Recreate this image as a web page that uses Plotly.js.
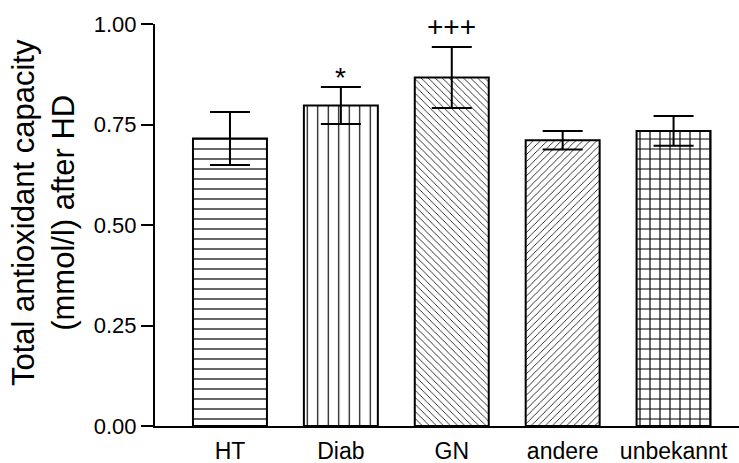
<!DOCTYPE html>
<html>
<head>
<meta charset="utf-8">
<script src="https://cdn.plot.ly/plotly-3.0.1.min.js"></script>
<style>
  html, body { margin: 0; padding: 0; background: #fff; }
  #chart { width: 739px; height: 463px; }
</style>
</head>
<body>
<div id="chart"></div>
<script>
// Total antioxidant capacity after HD, by underlying kidney disease
const categories = ['HT', 'Diab', 'GN', 'andere', 'unbekannt'];
const means = [0.715, 0.797, 0.867, 0.711, 0.734];
const sem = [0.066, 0.046, 0.076, 0.023, 0.037];
const hatches = ['-', '|', '\\', '/', '+'];
const marks = ['', '*', '+++', '', ''];
const yTitle = 'Total antioxidant capacity<br>(mmol/l) after HD';

// hatch density and line weight per fill shape
const patternSize = { '-': 10, '|': 10.5, '\\': 5, '/': 5, '+': 10 };
const patternSolidity = { '-': 0.12, '|': 0.11, '\\': 0.16, '/': 0.16, '+': 0.22 };
// the asterisk glyph sits higher in its line than the plus signs
const markLift = { '*': 10, '+++': 20 };

const FONT = 'Liberation Sans, Arial, Helvetica, sans-serif';

const bars = {
  type: 'bar',
  x: categories,
  y: means,
  width: 0.667,
  marker: {
    color: '#ffffff',
    line: { color: '#000000', width: 2 },
    pattern: {
      shape: hatches,
      size: hatches.map(h => patternSize[h]),
      solidity: hatches.map(h => patternSolidity[h]),
      fgcolor: '#000000',
      bgcolor: '#ffffff',
      fillmode: 'replace'
    }
  },
  error_y: {
    type: 'data',
    array: sem,
    visible: true,
    color: '#000000',
    thickness: 2,
    width: 20
  },
  cliponaxis: false,
  hoverinfo: 'skip'
};

const annotations = categories
  .map((c, i) => ({ c, i }))
  .filter(d => marks[d.i])
  .map(d => ({
    x: d.c,
    y: means[d.i] + sem[d.i],
    xref: 'x',
    yref: 'y',
    text: marks[d.i],
    showarrow: false,
    yanchor: 'middle',
    yshift: markLift[marks[d.i]],
    font: { family: FONT, size: 28, color: '#000' }
  }));

// rotated two-line axis title, placed left of the tick labels
annotations.push({
  xref: 'paper',
  yref: 'paper',
  x: -0.19,
  y: 0.53,
  xanchor: 'center',
  yanchor: 'middle',
  textangle: -90,
  text: yTitle,
  showarrow: false,
  font: { family: FONT, size: 31, color: '#000' }
});

const layout = {
  width: 739,
  height: 463,
  margin: { l: 155, r: 0, t: 24, b: 37 },
  paper_bgcolor: '#ffffff',
  plot_bgcolor: '#ffffff',
  showlegend: false,
  font: { family: FONT, color: '#000' },
  xaxis: {
    type: 'category',
    range: [-0.676, 4.59],
    showline: true,
    linecolor: '#000',
    linewidth: 2,
    ticks: '',
    showgrid: false,
    zeroline: false,
    tickfont: { size: 23 },
    ticklabelstandoff: 3
  },
  yaxis: {
    range: [0, 1.0],
    tickvals: [0, 0.25, 0.5, 0.75, 1.0],
    ticktext: ['0.00', '0.25', '0.50', '0.75', '1.00'],
    showline: true,
    linecolor: '#000',
    linewidth: 2,
    ticks: 'outside',
    ticklen: 12,
    tickwidth: 2,
    tickcolor: '#000',
    showgrid: false,
    zeroline: false,
    tickfont: { size: 22 }
  },
  annotations: annotations
};

Plotly.newPlot('chart', [bars], layout, { displayModeBar: false, staticPlot: true });
</script>
</body>
</html>
